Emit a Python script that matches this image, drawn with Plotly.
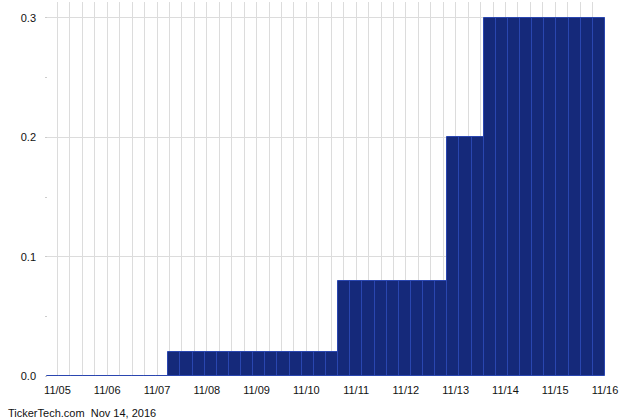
import plotly.graph_objects as go

# Data: one value per period bar (46 bars)
bar_values = (
    [0.0] * 10 +
    [0.02] * 14 +
    [0.08] * 9 +
    [0.20] * 3 +
    [0.30] * 10
)
bar_index = list(range(len(bar_values)))

# Date tick labels (one per day, gridlines every quarter day)
date_labels = ["11/05", "11/06", "11/07", "11/08", "11/09", "11/10",
               "11/11", "11/12", "11/13", "11/14", "11/15", "11/16"]
date_positions = [1 + 4 * i for i in range(len(date_labels))]

y_ticks = [0.0, 0.1, 0.2, 0.3]
footer = "TickerTech.com  Nov 14, 2016"

FONT = "Liberation Sans, Arial, sans-serif"
GRID = "#dcdcdc"

fig = go.Figure()

# invisible trace to anchor the base (grid/label) subplot
fig.add_trace(go.Scatter(x=[0], y=[0], xaxis="x", yaxis="y", mode="markers",
                         marker=dict(opacity=0), hoverinfo="skip", showlegend=False))

fig.add_trace(go.Bar(
    x=bar_index, y=bar_values, xaxis="x2", yaxis="y",
    marker=dict(color="#15297a", line=dict(color="#2a46b0", width=1)),
    showlegend=False,
))

fig.update_layout(
    width=640, height=420,
    margin=dict(l=45, r=35, t=2, b=44),
    paper_bgcolor="white", plot_bgcolor="white",
    bargap=0,
    font=dict(family=FONT, size=11, color="#111"),
    xaxis=dict(
        range=[0, 45], showgrid=True, gridcolor=GRID, gridwidth=1,
        tickvals=date_positions, ticktext=date_labels,
        ticks="", zeroline=False, showline=False,
        ticklabelstandoff=6,
        minor=dict(dtick=1, tick0=0, showgrid=True, gridcolor=GRID, gridwidth=1, ticks=""),
        tickfont=dict(family=FONT, size=11, color="#111"),
    ),
    xaxis2=dict(
        overlaying="x", anchor="y",
        range=[-0.5 - 2 / 12.13, len(bar_values) - 0.5],
        showgrid=False, showticklabels=False, ticks="", zeroline=False, showline=False,
    ),
    yaxis=dict(
        range=[0, 0.3134], tickvals=y_ticks, tickformat=".1f",
        showgrid=True, gridcolor=GRID, gridwidth=1,
        zeroline=False, showline=False, ticks="",
        ticklabelstandoff=8,
        minor=dict(dtick=0.05, tick0=0, ticks="inside", ticklen=2, tickcolor="#cccccc",
                   showgrid=False),
        tickfont=dict(family=FONT, size=11, color="#111"),
    ),
    annotations=[dict(
        text=footer, xref="paper", yref="paper", x=-45 / 560, y=-37 / 374,
        xanchor="left", yanchor="middle", showarrow=False, xshift=6,
        font=dict(family=FONT, size=11, color="#111"),
    )],
)

fig.write_html("out.html", config={"displayModeBar": False},
               post_script="document.body.style.margin='0px';")
